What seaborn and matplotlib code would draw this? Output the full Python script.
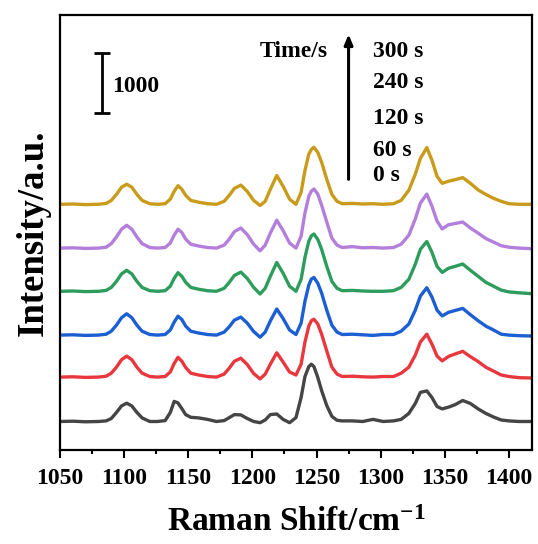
import numpy as np
import pandas as pd
import matplotlib
matplotlib.use('Agg')
import matplotlib.pyplot as plt
import seaborn as sns

# Raman shift grid (cm-1), denser around the bands
raman_shift = [1050, 1060, 1070, 1080, 1086,
               1090, 1094, 1098, 1102, 1106, 1110, 1114, 1120,
               1126, 1132,
               1136, 1139, 1142, 1145, 1148, 1152,
               1158, 1165, 1172,
               1178, 1182, 1186, 1191, 1196, 1201, 1206,
               1210, 1214, 1219, 1224, 1229, 1234,
               1238, 1241, 1244, 1246, 1248, 1251, 1254, 1258, 1262, 1266, 1270,
               1278, 1286, 1294, 1302, 1310,
               1316, 1322, 1327, 1331, 1336, 1340, 1344, 1348,
               1353, 1358, 1364, 1370, 1376, 1382, 1388, 1394, 1400,
               1408, 1418]

# intensities (a.u.), each relative to its own baseline
black = [0, 5, -5, 0, 10,
         50, 150, 260, 305, 260, 150, 60, 0,
         0, 15,
         150, 335, 310, 215, 115, 70,
         60, 35, 0,
         15, 65, 115, 110, 50, 0, -20,
         25, 115, 125, 35, -20, 65,
         400, 750, 915, 955, 915, 735, 515, 265, 85, 20, 10,
         10, 0, 35, 0, 10,
         35, 135, 300, 485, 510, 400, 250, 210,
         240, 280, 350, 300, 210, 135, 75, 25, 10,
         0, 0]
red = [0, 5, -5, 0, 15,
       65, 165, 290, 350, 290, 165, 65, 10,
       0, 10,
       85, 225, 330, 265, 160, 65,
       35, 10, 0,
       50, 150, 265, 315, 210, 60, -30,
       50, 215, 405, 250, 85, 35,
       215, 585, 850, 940, 965, 885, 715, 435, 165, 50, 10,
       15, 5, 0, 10, 10,
       65, 165, 365, 585, 715, 550, 350, 270,
       345, 385, 430, 340, 260, 165, 100, 35, 10,
       -10, -15]
blue = [0, 5, -5, 0, 15,
        65, 165, 290, 355, 290, 165, 65, 10,
        0, 10,
        85, 215, 315, 260, 150, 65,
        35, 10, 0,
        50, 140, 250, 300, 200, 60, -35,
        50, 235, 435, 275, 85, 10,
        200, 565, 835, 935, 960, 865, 700, 415, 165, 50, 10,
        15, 5, -5, 10, 10,
        65, 185, 415, 650, 790, 635, 415, 320,
        380, 410, 445, 340, 240, 150, 85, 15, 0,
        -10, -15]
green = [0, 5, -5, 0, 15,
         65, 165, 290, 350, 290, 165, 65, 10,
         0, 10,
         85, 215, 310, 250, 150, 65,
         35, 10, 0,
         50, 150, 265, 320, 215, 65, -45,
         50, 250, 480, 300, 85, 0,
         200, 565, 835, 925, 955, 865, 700, 415, 165, 50, 10,
         15, 5, 0, 0, 10,
         65, 200, 450, 700, 830, 650, 415, 315,
         385, 415, 455, 350, 250, 150, 85, 20, -10,
         -25, -40]
purple = [0, 5, -5, 0, 15,
          75, 185, 315, 380, 315, 185, 75, 10,
          0, 10,
          85, 215, 315, 260, 150, 65,
          35, 10, 0,
          50, 150, 275, 335, 225, 65, -45,
          50, 250, 465, 290, 85, 0,
          200, 585, 865, 950, 985, 900, 715, 435, 165, 50, 10,
          25, 5, 10, 0, 10,
          65, 215, 485, 750, 900, 700, 450, 320,
          390, 410, 435, 335, 250, 160, 100, 40, 15,
          0, -10]
gold = [0, 5, -5, 0, 15,
        65, 165, 285, 335, 285, 165, 65, 10,
        0, 10,
        85, 215, 310, 250, 150, 65,
        35, 10, 0,
        50, 150, 265, 320, 215, 65, -20,
        50, 250, 480, 300, 85, 0,
        200, 565, 835, 915, 950, 865, 700, 415, 165, 50, 10,
        15, 5, 10, 0, 10,
        65, 235, 500, 765, 945, 735, 465, 350,
        385, 410, 445, 350, 240, 165, 100, 50, 10,
        0, 0]

curve_names = ['black', 'red', 'blue', 'green', 'purple', 'gold']
curve_values = [black, red, blue, green, purple, gold]
stack_offsets = [0, 740, 1440, 2170, 2890, 3620]
line_colors = ['#454545', '#E8383D', '#1B5FD3', '#2E9C5C', '#B47EDB', '#C99B1A']

time_labels = ['300 s', '240 s', '120 s', '60 s', '0 s']
time_label_y = [6175, 5642, 5058, 4525, 4108]

frames = []
for name, vals, off in zip(curve_names, curve_values, stack_offsets):
    frames.append(pd.DataFrame({'shift': raman_shift,
                                'intensity': np.array(vals) + off,
                                'curve': name}))
df = pd.concat(frames, ignore_index=True)

sns.set_style('white')
plt.rcParams['font.family'] = ['Liberation Serif', 'DejaVu Serif']
plt.rcParams['font.weight'] = 'bold'
plt.rcParams['text.color'] = 'black'
plt.rcParams['axes.labelcolor'] = 'black'
plt.rcParams['xtick.color'] = 'black'
plt.rcParams['mathtext.fontset'] = 'custom'
plt.rcParams['mathtext.rm'] = 'Liberation Serif:bold'
plt.rcParams['mathtext.default'] = 'rm'

fig = plt.figure(figsize=(5.38, 5.44), dpi=100)
ax = fig.add_axes([0.1115, 0.1728, 0.8773, 0.7996])

sns.lineplot(data=df, x='shift', y='intensity', hue='curve',
             palette=dict(zip(curve_names, line_colors)),
             estimator=None, linewidth=2.4, legend=False, ax=ax)

ax.set_xlim(1050, 1418)
ax.set_ylim(-475, 6775)
ax.set_xticks(np.arange(1050, 1401, 50))
ax.set_xticks(np.arange(1075, 1401, 50), minor=True)
ax.set_yticks([])
ax.tick_params(axis='x', which='major', direction='out', length=6, width=1.5,
               labelsize=17, pad=7, bottom=True, top=False, colors='black')
ax.tick_params(axis='x', which='minor', direction='out', length=3, width=1.5,
               bottom=True, top=False, colors='black')
for lab in ax.get_xticklabels():
    lab.set_fontweight('bold')
for sp in ax.spines.values():
    sp.set_color('black')
    sp.set_linewidth(1.6)

ax.set_xlabel('Raman Shift/cm$^{-1}$', fontsize=24, fontweight='bold', labelpad=13)
ax.set_ylabel('Intensity/a.u.', fontsize=26.5, fontweight='bold', labelpad=7)

# scale bar: 1000 a.u.
bar_x, bar_mid, bar_len = 1082.6, 5642, 1000
ax.errorbar([bar_x], [bar_mid], yerr=bar_len / 2, color='black',
            elinewidth=2, capsize=6, capthick=2)
ax.text(1091, 5590, '1000', fontsize=17, fontweight='bold', va='center', ha='left')

# time arrow and labels
ax.annotate('', xy=(1275, 6500), xytext=(1275, 3990),
            arrowprops=dict(arrowstyle='-|>,head_length=0.6,head_width=0.25',
                            color='black', lw=2.2))
ax.text(1258.5, 6175, 'Time/s', fontsize=17, fontweight='bold', va='center', ha='right')
for lab, yy in zip(time_labels, time_label_y):
    ax.text(1293.8, yy, lab, fontsize=17, fontweight='bold', va='center', ha='left')

fig.savefig('out.png', dpi=100)
plt.close(fig)
